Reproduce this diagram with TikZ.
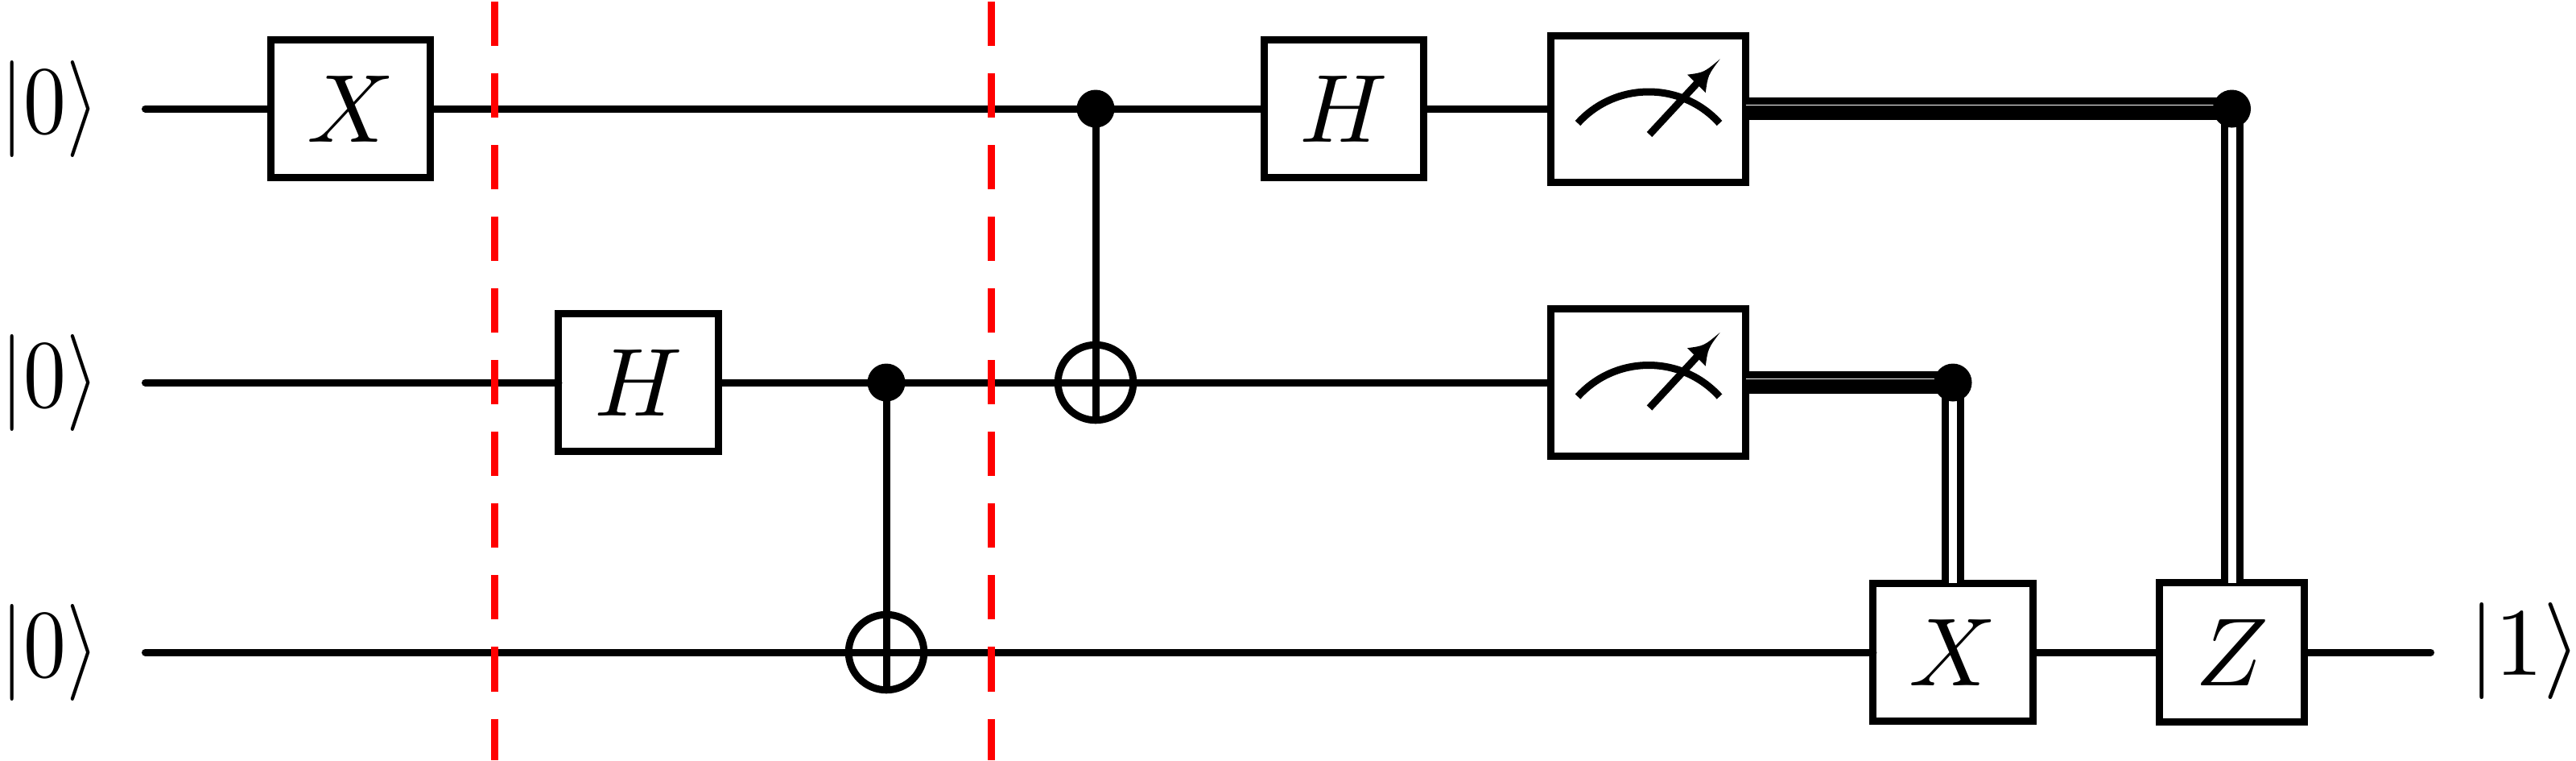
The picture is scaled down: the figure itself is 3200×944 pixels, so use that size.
\documentclass[tikz,border=0pt]{standalone}
\usepackage{amsmath}
\usepackage{graphicx}
\newcommand{\bigmath}[1]{\scalebox{3.414}{$#1$}}
\newcommand{\ketmath}[1]{\scalebox{3.0}[3.414]{$#1$}}
\tikzset{
  x=0.01cm,y=-0.01cm,
  every node/.style={font=\fontsize{10}{12}\selectfont,inner sep=0pt,outer sep=0pt},
  wire/.style={line width=0.09cm,line cap=butt},
  wireend/.style={line width=0.09cm,line cap=round},
  gatebox/.style={draw,line width=0.09cm,rectangle,fill=white,minimum width=1.98cm,minimum height=1.71cm},
  zbox/.style={gatebox,minimum width=1.80cm,minimum height=1.72cm},
  meterbox/.style={draw,line width=0.09cm,rectangle,fill=white,minimum width=2.42cm,minimum height=1.82cm},
  ctrl/.style={circle,fill=black,minimum size=0.47cm},
  targ/.style={circle,draw,line width=0.09cm,minimum size=0.935cm},
  barrier/.style={line width=0.09cm,red,dash pattern=on 0.55cm off 0.34cm},
  cdouble/.style={line width=0.09cm,double=white,double distance=0.10cm,line cap=butt},
  meterglyph/.pic={
    \draw[line width=0.09cm,line cap=butt] (-87.5,17.5) .. controls (-40.5,-34.5) and (41.5,-34.5) .. (88.5,17.5);
    \draw[line width=0.09cm,line cap=butt] (1.5,31.5) -- (66,-38);
    \fill (89.2,-62.2) .. controls (74.2,-42.2) and (74.2,-42.2) .. (71.2,-20.5) -- (48.5,-42.8) .. controls (69.2,-45.5) and (69.2,-45.5) .. (89.2,-62.2) -- cycle;
  }
}
\begin{document}
\begin{tikzpicture}
\useasboundingbox (0,0) rectangle (3200,944);
% labels
\node (k1) at (62,135) {\ketmath{|0\rangle}};
\node (k2) at (62,475) {\ketmath{|0\rangle}};
\node (k3) at (62,810) {\ketmath{|0\rangle}};
\node (k4) at (3136,808) {\bigmath{|1\rangle}};
% free wire ends
\coordinate (s1) at (180.5,135);
\coordinate (s2) at (180.5,475);
\coordinate (s3) at (180.5,810);
\coordinate (e3) at (3019.5,810);
% gates
\node[gatebox] (x1) at (435.5,135) {\bigmath{X}};
\node[gatebox] (h1) at (1669.5,135) {\bigmath{H}};
\node[gatebox] (h2) at (793,475) {\bigmath{H}};
\node[gatebox] (x3) at (2426,810) {\bigmath{X}};
\node[zbox] (z3) at (2772.5,810) {\bigmath{Z}};
\node[meterbox] (m1) at (2047.5,135.5) {};
\node[meterbox] (m2) at (2047.5,475) {};
\pic at (m1.center) {meterglyph};
\pic at (m2.center) {meterglyph};
% control points
\coordinate (c1) at (1361,135);
\coordinate (t2) at (1361,475);
\coordinate (c2) at (1101,475);
\coordinate (t3) at (1101,810);
\coordinate (d1) at (2772.5,135);
\coordinate (d2) at (2426,475);
% quantum wires
\draw[wireend] (s1) -- (x1.west);
\draw[wire] (x1.east) -- (h1.west);
\draw[wire] (h1.east) -- (h1.east -| m1.west);
\draw[wireend] (s2) -- (h2.west);
\draw[wire] (h2.east) -- (m2.west);
\draw[wireend] (s3) -- (x3.west);
\draw[wire] (x3.east) -- (z3.west);
\draw[wireend] (z3.east) -- (e3);
% classical wires
\draw[cdouble] (m1.east |- d1) -- (d1);
\draw[wire] (m1.east |- d1) -- (d1);
\draw[cdouble] (m2.east |- d2) -- (d2);
\draw[wire] (m2.east |- d2) -- (d2);
\draw[cdouble] (d1) -- (z3.north);
\draw[cdouble] (d2) -- (x3.north);
% CNOTs
\node[targ] (tg2) at (t2) {};
\node[targ] (tg3) at (t3) {};
\node[ctrl] (ct1) at (c1) {};
\node[ctrl] (ct2) at (c2) {};
\node[ctrl] (dt1) at (d1) {};
\node[ctrl] (dt2) at (d2) {};
\draw[wire] (ct1.center) -- (tg2.south);
\draw[wire] (ct2.center) -- (tg3.south);
% barriers
\coordinate (b1t) at (614,2);
\coordinate (b1b) at (614,944);
\coordinate (b2t) at (1231,2);
\coordinate (b2b) at (1231,944);
\draw[barrier] (b1t) -- (b1b);
\draw[barrier] (b2t) -- (b2b);
\end{tikzpicture}
\end{document}
